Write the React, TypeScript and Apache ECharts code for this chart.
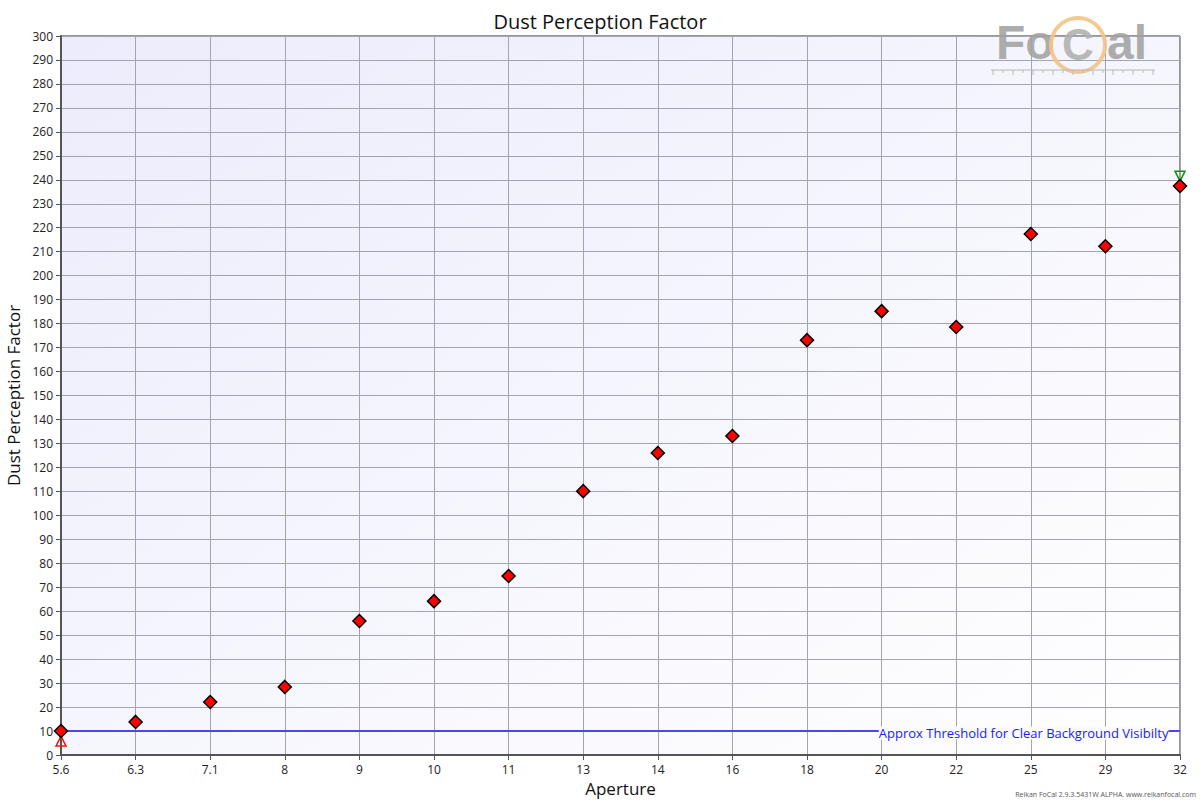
import React, { useEffect, useRef } from "react";
import * as echarts from "echarts";

const apertures = ["5.6", "6.3", "7.1", "8", "9", "10", "11", "13", "14", "16", "18", "20", "22", "25", "29", "32"];
const dustValues = [10.0, 13.8, 22.1, 28.4, 55.9, 64.2, 74.7, 110.1, 126.0, 133.1, 173.1, 185.2, 178.6, 217.4, 212.3, 237.4];
const thresholdValue = 10;
const minMarker = 5.8;
const maxMarker = 241.5;
const thresholdLabel = "Approx Threshold for Clear Background Visibilty";

export default function App() {
  const ref = useRef<HTMLDivElement>(null);
  useEffect(() => {
    if (!ref.current) return;
    const chart = echarts.init(ref.current, null, { renderer: "svg" });
    const font = "'Open Sans', 'Noto Sans', sans-serif";
    const logoFont = "'Liberation Sans', Arial, sans-serif";
    const n = apertures.length;
    const minData = apertures.map((_, i) => (i === 0 ? minMarker : null));
    const maxData = apertures.map((_, i) => (i === n - 1 ? maxMarker : null));
    const labelData = apertures.map((_, i) => (i === n - 1 ? thresholdValue : null));
    const rulerTicks: any[] = [];
    for (let i = 0; i <= 16; i++) {
      const x = 993 + i * 10;
      rulerTicks.push({
        type: "line",
        shape: { x1: x, y1: 70, x2: x, y2: i % 2 === 0 ? 75 : 73 },
        style: { stroke: "#b8b8b8", lineWidth: 1 },
        z: 100,
      });
    }
    chart.setOption({
      animation: false,
      backgroundColor: "#ffffff",
      textStyle: { fontFamily: font },
      title: {
        text: "Dust Perception Factor",
        left: "center",
        top: 6,
        textStyle: { fontSize: 20, fontWeight: "normal", color: "#111", fontFamily: font },
      },
      grid: {
        left: 61,
        right: 20,
        top: 36,
        bottom: 45,
        outerBoundsMode: "none",
        containLabel: false,
        show: true,
        borderColor: "#333",
        borderWidth: 1,
        backgroundColor: new echarts.graphic.LinearGradient(0, 0, 1, 1, [
          { offset: 0, color: "#ececfc" },
          { offset: 1, color: "#ffffff" },
        ]),
      },
      xAxis: {
        type: "category",
        data: apertures,
        boundaryGap: false,
        name: "Aperture",
        nameLocation: "middle",
        nameGap: 23,
        nameTextStyle: { fontSize: 17, color: "#111", fontFamily: font },
        axisLine: { lineStyle: { color: "#555", width: 2 } },
        axisTick: { show: true, length: 5, alignWithLabel: true, lineStyle: { color: "#555" } },
        axisLabel: { color: "#222", fontSize: 12, margin: 8, fontFamily: font },
        splitLine: { show: true, lineStyle: { color: "#a4a4b0", width: 1 } },
      },
      yAxis: {
        type: "value",
        min: 0,
        max: 300,
        interval: 10,
        name: "Dust Perception Factor",
        nameLocation: "middle",
        nameGap: 32,
        nameTextStyle: { fontSize: 17, color: "#111", fontFamily: font },
        axisLine: { show: true, lineStyle: { color: "#555", width: 2 } },
        axisTick: { show: true, length: 5, lineStyle: { color: "#555" } },
        axisLabel: { color: "#222", fontSize: 12, margin: 8, fontFamily: font },
        splitLine: { show: true, lineStyle: { color: "#a4a4b0", width: 1 } },
      },
      series: [
        {
          name: "Threshold",
          type: "line",
          data: apertures.map(() => thresholdValue),
          symbol: "none",
          lineStyle: { color: "#4a4ae2", width: 2 },
          z: 2,
        },
        {
          name: "ThresholdLabel",
          type: "scatter",
          data: labelData,
          symbol: "circle",
          symbolSize: 1,
          itemStyle: { color: "rgba(0,0,0,0)", opacity: 1 },
          label: {
            show: true,
            position: "left",
            distance: 11,
            offset: [0, 2],
            formatter: thresholdLabel,
            color: "#1a1aff",
            fontSize: 13,
            fontFamily: font,
            backgroundColor: "#fbfbff",
            padding: [0, 0, 0, 0],
          },
          z: 3,
        },
        {
          name: "Dust",
          type: "scatter",
          data: dustValues,
          symbol: "diamond",
          symbolSize: 13,
          itemStyle: { color: "#ff0000", borderColor: "#000", borderWidth: 1.5, opacity: 1 },
          z: 5,
        },
        {
          name: "Min",
          type: "scatter",
          data: minData,
          symbol: "triangle",
          symbolSize: 10,
          itemStyle: { color: "rgba(0,0,0,0)", borderColor: "#ff1010", borderWidth: 1.5, opacity: 1 },
          z: 4,
        },
        {
          name: "Max",
          type: "scatter",
          data: maxData,
          symbol: "triangle",
          symbolRotate: 180,
          symbolSize: 10,
          itemStyle: { color: "rgba(0,0,0,0)", borderColor: "#109010", borderWidth: 1.5, opacity: 1 },
          z: 4,
        },
      ],
      graphic: [
        {
          type: "text",
          x: 996,
          y: 42,
          style: { text: "Fo", fontSize: 48, fontWeight: "bold", fill: "#a2a2a2", fontFamily: logoFont, verticalAlign: "middle", opacity: 0.9 },
          z: 100,
        },
        {
          type: "ring",
          shape: { cx: 1078, cy: 45, r: 29, r0: 25 },
          style: { fill: "#f3c487", opacity: 0.9 },
          z: 100,
        },
        {
          type: "text",
          x: 1078,
          y: 44,
          style: { text: "C", fontSize: 44, fontWeight: "bold", fill: "#b0b0b0", align: "center", verticalAlign: "middle", fontFamily: logoFont, opacity: 0.9 },
          z: 100,
        },
        {
          type: "text",
          x: 1107,
          y: 42,
          style: { text: "al", fontSize: 48, fontWeight: "bold", fill: "#a2a2a2", fontFamily: logoFont, verticalAlign: "middle", opacity: 0.9 },
          z: 100,
        },
        {
          type: "line",
          shape: { x1: 991, y1: 70, x2: 1155, y2: 70 },
          style: { stroke: "#b8b8b8", lineWidth: 1 },
          z: 100,
        },
        ...rulerTicks,
        {
          type: "text",
          right: 4,
          bottom: 2,
          style: { text: "Reikan FoCal 2.9.3.5431W ALPHA. www.reikanfocal.com", fontSize: 7, fill: "#555", fontFamily: font },
          z: 100,
        },
      ],
    });
    return () => chart.dispose();
  }, []);
  return <div ref={ref} style={{ position: "fixed", left: 0, top: 0, width: 1200, height: 800 }} />;
}
